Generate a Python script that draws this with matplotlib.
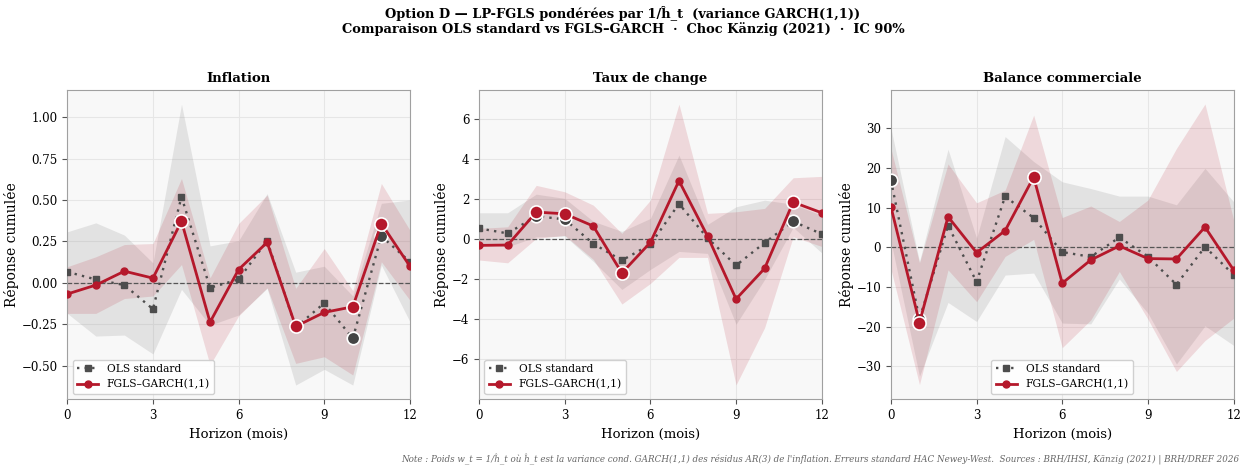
import matplotlib
matplotlib.use("Agg")
import matplotlib.pyplot as plt
import numpy as np

plt.rcParams['font.family'] = ['DejaVu Serif']

horizons = list(range(13))

# Inflation
infl_ols = [0.066, 0.02, -0.014, -0.159, 0.519, -0.03, 0.02, 0.254, -0.27, -0.123, -0.336, 0.282, 0.127]
infl_ols_hi = [0.308, 0.362, 0.288, 0.12, 1.079, 0.223, 0.254, 0.539, 0.064, 0.10, -0.08, 0.48, 0.50]
infl_ols_lo = [-0.185, -0.322, -0.316, -0.43, -0.04, -0.256, -0.195, -0.034, -0.618, -0.523, -0.618, 0.107, -0.235]
infl_fgls = [-0.068, -0.014, 0.07, 0.028, 0.372, -0.238, 0.08, 0.244, -0.264, -0.179, -0.145, 0.358, 0.10]
infl_fgls_hi = [0.097, 0.157, 0.231, 0.237, 0.63, 0.03, 0.358, 0.53, -0.034, 0.207, -0.048, 0.60, 0.318]
infl_fgls_lo = [-0.185, -0.185, -0.095, -0.08, 0.11, -0.497, -0.2, -0.03, -0.487, -0.447, -0.557, 0.127, -0.105]
infl_ols_sig = [0, 0, 0, 0, 0, 0, 0, 0, 0, 0, 1, 1, 0]
infl_fgls_sig = [0, 0, 0, 0, 1, 0, 0, 0, 1, 0, 1, 1, 0]

# Taux de change
fx_ols = [0.55, 0.30, 1.165, 1.0, -0.216, -1.05, -0.25, 1.78, 0.07, -1.30, -0.166, 0.9, 0.27]
fx_ols_hi = [1.33, 1.33, 2.26, 2.05, 0.9, 0.4, 1.05, 4.21, 0.75, 1.63, 1.96, 1.76, 1.2]
fx_ols_lo = [-0.2, -0.37, 0.13, 0.17, -1.1, -2.5, -1.5, -0.6, -0.7, -4.24, -2.0, 0.6, -0.67]
fx_fgls = [-0.3, -0.28, 1.365, 1.28, 0.666, -1.68, -0.15, 2.93, 0.166, -2.98, -1.45, 1.86, 1.33]
fx_fgls_hi = [0.55, 0.63, 2.7, 2.38, 1.71, 0.3, 1.96, 6.76, 1.3, 1.38, 1.55, 3.08, 3.15]
fx_fgls_lo = [-1.03, -1.17, 0.05, 0.2, -1.0, -3.23, -2.2, -0.9, -0.9, -7.27, -4.41, 0.13, -0.35]
fx_ols_sig = [0, 0, 1, 1, 0, 0, 0, 0, 0, 0, 0, 1, 0]
fx_fgls_sig = [0, 0, 1, 1, 0, 1, 0, 0, 0, 0, 0, 1, 0]

# Balance commerciale
bc_ols = [16.9, -18.1, 5.45, -8.7, 12.8, 7.4, -1.2, -2.4, 2.5, -2.35, -9.4, 0.1, -6.9]
bc_ols_hi = [30.0, -3.6, 24.7, 2.3, 27.9, 21.6, 16.5, 14.8, 12.9, 12.9, 10.7, 19.9, 11.5]
bc_ols_lo = [1.5, -32.5, -13.9, -18.7, -7.0, -6.5, -19.1, -19.3, -8.0, -16.6, -29.4, -19.8, -24.7]
bc_fgls = [10.2, -19.0, 7.7, -1.35, 4.2, 17.7, -9.06, -3.2, 0.34, -2.85, -2.94, 5.1, -5.7]
bc_fgls_hi = [24.9, -3.9, 21.0, 11.2, 14.4, 33.3, 7.5, 10.4, 6.5, 11.9, 24.9, 36.1, 7.0]
bc_fgls_lo = [-5.5, -34.6, -5.7, -13.7, -2.3, 2.0, -25.3, -18.3, -6.1, -18.1, -31.3, -23.5, -17.9]
bc_ols_sig = [1, 1, 0, 0, 0, 0, 0, 0, 0, 0, 0, 0, 0]
bc_fgls_sig = [0, 1, 0, 0, 0, 1, 0, 0, 0, 0, 0, 0, 0]

panels = [
    ("Inflation", infl_ols, infl_ols_lo, infl_ols_hi, infl_ols_sig,
     infl_fgls, infl_fgls_lo, infl_fgls_hi, infl_fgls_sig,
     (-0.704, 1.164), np.arange(-0.5, 1.01, 0.25), "{:.2f}", "lower left"),
    ("Taux de change", fx_ols, fx_ols_lo, fx_ols_hi, fx_ols_sig,
     fx_fgls, fx_fgls_lo, fx_fgls_hi, fx_fgls_sig,
     (-7.99, 7.46), np.arange(-6, 7, 2), "{:.0f}", "lower left"),
    ("Balance commerciale", bc_ols, bc_ols_lo, bc_ols_hi, bc_ols_sig,
     bc_fgls, bc_fgls_lo, bc_fgls_hi, bc_fgls_sig,
     (-38.3, 39.6), np.arange(-30, 31, 10), "{:.0f}", "lower center"),
]

OLS_C = "#4d4d4d"
FGLS_C = "#b5182b"

fig, axes = plt.subplots(1, 3, figsize=(12.46, 4.67), dpi=100)
fig.subplots_adjust(left=0.054, right=0.99, top=0.807, bottom=0.145, wspace=0.202)

for ax, (title, o, olo, ohi, osig, f, flo, fhi, fsig, ylim, yt, fmt, loc) in zip(axes, panels):
    h = np.array(horizons)
    o, olo, ohi = np.array(o), np.array(olo), np.array(ohi)
    f, flo, fhi = np.array(f), np.array(flo), np.array(fhi)
    osig, fsig = np.array(osig, bool), np.array(fsig, bool)

    ax.set_facecolor("#f8f8f8")
    ax.grid(True, color="#e6e6e6", lw=0.8)
    ax.set_axisbelow(True)

    ax.fill_between(h, olo, ohi, color="#969696", alpha=0.22, lw=0, zorder=1)
    ax.fill_between(h, flo, fhi, color=FGLS_C, alpha=0.14, lw=0, zorder=1)
    ax.axhline(0, color="#555555", lw=0.9, ls="--", zorder=2)

    ax.plot(h, o, color=OLS_C, ls=(0, (1, 2.2)), lw=1.7, marker="s", ms=5,
            label="OLS standard", zorder=3)
    ax.plot(h[osig], o[osig], ls="none", marker="o", ms=9, color="#444444",
            mec="white", mew=1.2, zorder=4)
    ax.plot(h, f, color=FGLS_C, lw=2.0, marker="o", ms=5,
            label="FGLS–GARCH(1,1)", zorder=5)
    ax.plot(h[fsig], f[fsig], ls="none", marker="o", ms=9.5, color=FGLS_C,
            mec="white", mew=1.2, zorder=6)

    ax.set_xlim(0, 12)
    ax.set_xticks([0, 3, 6, 9, 12])
    ax.set_ylim(*ylim)
    ax.set_yticks(yt)
    ax.set_yticklabels([fmt.format(v).replace("-", "\u2212") for v in yt])
    ax.tick_params(labelsize=8.5, color="#555555")
    for s in ax.spines.values():
        s.set_color("#a0a0a0")
    ax.set_title(title, fontsize=9.5, fontweight="bold", pad=6)
    ax.set_xlabel("Horizon (mois)", fontsize=9.5)
    ax.set_ylabel("Réponse cumulée", fontsize=10, labelpad=2)
    ax.legend(loc=loc, fontsize=7.7, framealpha=0.9, edgecolor="#cccccc")

fig.suptitle("Option D — LP-FGLS pondérées par 1/ĥ_t  (variance GARCH(1,1))\n"
             "Comparaison OLS standard vs FGLS–GARCH  ·  Choc Känzig (2021)  ·  IC 90%",
             fontsize=9.4, fontweight="bold", y=0.988, va="top", linespacing=1.15)

fig.text(0.995, 0.017,
         "Note : Poids w_t = 1/ĥ_t où ĥ_t est la variance cond. GARCH(1,1) des résidus AR(3) de l'inflation. "
         "Erreurs standard HAC Newey-West.  Sources : BRH/IHSI, Känzig (2021) | BRH/DREF 2026",
         ha="right", va="center", fontsize=6.3, style="italic", color="#666666")

fig.savefig("out.png", dpi=100)
